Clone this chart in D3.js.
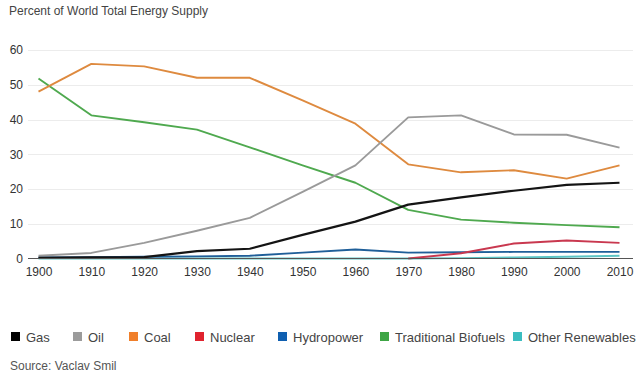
<!DOCTYPE html>
<html>
<head>
<meta charset="utf-8">
<script src="https://cdn.jsdelivr.net/npm/d3@7"></script>
<style>
  html, body { margin: 0; padding: 0; background: #fff; }
  svg { display: block; font-family: "Liberation Sans", Arial, Helvetica, sans-serif; }
</style>
</head>
<body>
<svg id="chart" width="640" height="375"></svg>
<script>
const years = [1900, 1910, 1920, 1930, 1940, 1950, 1960, 1970, 1980, 1990, 2000, 2010];
const yTicks = [0, 10, 20, 30, 40, 50, 60];
const gas = [0.2, 0.3, 0.4, 2.1, 2.8, 6.8, 10.6, 15.5, 17.6, 19.5, 21.2, 21.8];
const oil = [0.8, 1.6, 4.5, 8.0, 11.7, 19.2, 26.8, 40.6, 41.2, 35.7, 35.6, 31.9];
const coal = [48, 56, 55.3, 52, 52, 45.5, 38.8, 27.1, 24.8, 25.4, 23, 26.8];
const nuclear = [null, null, null, null, null, null, null, 0, 1.5, 4.3, 5.2, 4.5];
const hydropower = [0.3, 0.4, 0.5, 0.6, 0.8, 1.7, 2.6, 1.7, 1.8, 1.9, 1.9, 1.9];
const biofuels = [51.8, 41.2, 39.2, 37.1, 32.0, 26.8, 21.8, 14.0, 11.2, 10.3, 9.6, 9.0];
const otherRenewables = [0, 0, 0, 0, 0, 0, 0, 0, 0.1, 0.3, 0.5, 0.8];

const seriesNames = ["Gas", "Oil", "Coal", "Nuclear", "Hydropower", "Traditional Biofuels", "Other Renewables"];
const seriesValues = [gas, oil, coal, nuclear, hydropower, biofuels, otherRenewables];
const lineColors = ["#141414", "#9a9a9a", "#de8a3f", "#c9384f", "#1f5f99", "#4fa94f", "#5cc4c4"];
const legendColors = ["#000000", "#9b9b9b", "#f07f2a", "#e0232e", "#0f5fb0", "#3ea545", "#3bbdc0"];
// draw order (bottom to top)
const drawOrder = [6, 4, 3, 5, 2, 1, 0];
const legendX = [11, 73, 129, 195, 278, 380, 513];

const svg = d3.select("#chart");

const x = d3.scaleLinear().domain([1900, 2010]).range([38.5, 619.5]);
const y = d3.scaleLinear().domain([0, 60]).range([258.5, 50]);

// title
svg.append("text")
  .attr("x", 9).attr("y", 15)
  .attr("font-size", 12).attr("fill", "#444")
  .text("Percent of World Total Energy Supply");

// gridlines
svg.append("g").selectAll("line")
  .data(yTicks.filter(d => d > 0))
  .join("line")
  .attr("x1", 28).attr("x2", 633)
  .attr("y1", d => Math.round(y(d)) + 0.5).attr("y2", d => Math.round(y(d)) + 0.5)
  .attr("stroke", "#ececec").attr("stroke-width", 1);

// y axis labels
const yAxis = d3.axisLeft(y).tickValues(yTicks).tickSize(0).tickPadding(0);
const gy = svg.append("g").attr("transform", "translate(23,0)").call(yAxis);
gy.select(".domain").remove();
gy.selectAll("text").attr("font-size", 12).attr("fill", "#333").attr("font-family", null);

// x axis
const xAxis = d3.axisBottom(x).tickValues(years).tickFormat(d3.format("d")).tickSize(0).tickPadding(9);
const gx = svg.append("g").attr("transform", "translate(0,258.5)").call(xAxis);
gx.select(".domain").remove();
gx.selectAll("text").attr("font-size", 12).attr("fill", "#333").attr("font-family", null);

// lines
const lineGen = d3.line()
  .defined(d => d.v !== null)
  .x(d => x(d.year))
  .y(d => y(d.v));

const linesG = svg.append("g");
drawOrder.forEach(i => {
  const data = years.map((yr, k) => ({year: yr, v: seriesValues[i][k]}));
  linesG.append("path")
    .datum(data)
    .attr("d", lineGen)
    .attr("fill", "none")
    .attr("stroke", lineColors[i])
    .attr("stroke-width", i === 0 ? 2.2 : 1.9)
    .attr("stroke-linejoin", "round");
});

// baseline axis line
svg.append("line")
  .attr("x1", 28).attr("x2", 633)
  .attr("y1", 258.5).attr("y2", 258.5)
  .attr("stroke", "#555").attr("stroke-width", 1.2);

// legend
const lg = svg.append("g").selectAll("g")
  .data(seriesNames)
  .join("g")
  .attr("transform", (d, i) => `translate(${legendX[i]},332)`);
lg.append("rect")
  .attr("width", 9).attr("height", 9)
  .attr("fill", (d, i) => legendColors[i]);
lg.append("text")
  .attr("x", 15).attr("y", 9.5)
  .attr("font-size", 13).attr("fill", "#444")
  .text(d => d);

// source
svg.append("text")
  .attr("x", 10).attr("y", 370)
  .attr("font-size", 12).attr("fill", "#555")
  .text("Source: Vaclav Smil");
</script>
</body>
</html>
